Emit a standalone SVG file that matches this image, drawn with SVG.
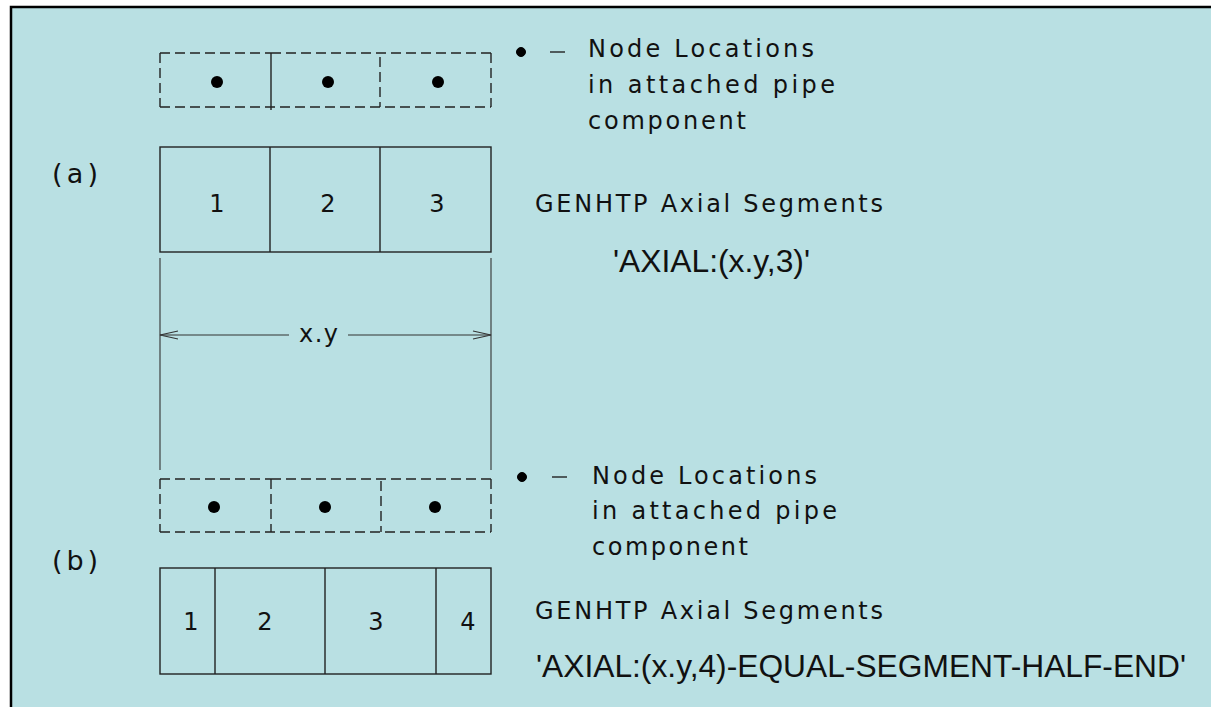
<svg xmlns="http://www.w3.org/2000/svg" width="1211" height="707" viewBox="0 0 1211 707">
<style>
.cad{font-family:"DejaVu Sans","Liberation Sans",sans-serif;font-size:24px;fill:#111;font-weight:normal}
.lab{font-family:"DejaVu Sans","Liberation Sans",sans-serif;font-size:27px;fill:#111}
.ari{font-family:"Liberation Sans",Arial,sans-serif;font-size:31px;fill:#111}
.box{fill:none;stroke:#222;stroke-width:1.4}
.dash{fill:none;stroke:#222;stroke-width:1.4;stroke-dasharray:10,5}
.thin{fill:none;stroke:#333;stroke-width:1.1}
.dot{fill:#000}
</style>
<rect x="0" y="0" width="1211" height="707" fill="#ffffff"/>
<rect x="11" y="7" width="1215" height="715" fill="#B9E0E3" stroke="#000" stroke-width="2.5"/>

<g id="label-a"><text class="lab" x="52" y="183" textLength="46" lengthAdjust="spacing">(a)</text></g>
<g id="label-b"><text class="lab" x="52" y="570" textLength="46" lengthAdjust="spacing">(b)</text></g>

<g id="pipe-nodes-a">
<path class="dash" d="M160,53 H271 M271,53 H491 M160,107 H491 M160,53 V107 M380,57 V107 M491,53 V107"/>
<path class="box" d="M271,53 V110"/>
<circle class="dot" cx="217" cy="82" r="6"/>
<circle class="dot" cx="328" cy="82" r="6"/>
<circle class="dot" cx="438" cy="82" r="6"/>
</g>

<g id="legend-a">
<circle cx="521" cy="52" r="4.5" fill="#000" stroke="#000" stroke-width="1"/>
<path class="box" d="M550,52 H565"/>
<text class="cad" x="588" y="57" textLength="226" lengthAdjust="spacing">Node Locations</text>
<text class="cad" x="588" y="93" textLength="247" lengthAdjust="spacing">in attached pipe</text>
<text class="cad" x="588" y="129" textLength="158" lengthAdjust="spacing">component</text>
</g>

<g id="segments-a">
<rect class="box" x="160" y="147" width="331" height="105"/>
<path class="box" d="M270,147 V252 M380,147 V252"/>
<text class="cad" x="217" y="212" text-anchor="middle">1</text>
<text class="cad" x="328" y="212" text-anchor="middle">2</text>
<text class="cad" x="437" y="212" text-anchor="middle">3</text>
</g>

<g id="caption-a">
<text class="cad" x="535" y="212" textLength="348" lengthAdjust="spacing">GENHTP Axial Segments</text>
<text class="ari" x="613" y="272" textLength="197" lengthAdjust="spacingAndGlyphs">'AXIAL:(x.y,3)'</text>
</g>

<g id="connectors">
<path class="thin" d="M160,258 V470 M491,258 V470"/>
<path class="thin" d="M160,335 H289 M348,335 H491"/>
<path class="thin" d="M178,331 L160,335 L178,339 M473,331 L491,335 L473,339"/>
<text class="cad" x="299" y="342" textLength="39" lengthAdjust="spacing">x.y</text>
</g>

<g id="pipe-nodes-b">
<path class="dash" d="M160,479 H271 M271,479 H491 M160,532 H491 M160,479 V532 M271,479 V532 M381,481 V532 M491,479 V532"/>
<circle class="dot" cx="214" cy="507" r="6"/>
<circle class="dot" cx="325" cy="507" r="6"/>
<circle class="dot" cx="435" cy="507" r="6"/>
</g>

<g id="legend-b">
<circle cx="522" cy="477" r="4.5" fill="#000" stroke="#000" stroke-width="1"/>
<path class="box" d="M552,477 H567"/>
<text class="cad" x="592" y="484" textLength="225" lengthAdjust="spacing">Node Locations</text>
<text class="cad" x="592" y="519" textLength="245" lengthAdjust="spacing">in attached pipe</text>
<text class="cad" x="592" y="555" textLength="156" lengthAdjust="spacing">component</text>
</g>

<g id="segments-b">
<rect class="box" x="160" y="568" width="331" height="106"/>
<path class="box" d="M215,568 V674 M325,568 V674 M436,568 V674"/>
<text class="cad" x="191" y="630" text-anchor="middle">1</text>
<text class="cad" x="265" y="630" text-anchor="middle">2</text>
<text class="cad" x="376" y="630" text-anchor="middle">3</text>
<text class="cad" x="468" y="630" text-anchor="middle">4</text>
</g>

<g id="caption-b">
<text class="cad" x="535" y="619" textLength="348" lengthAdjust="spacing">GENHTP Axial Segments</text>
<text class="ari" x="536" y="677" textLength="650" lengthAdjust="spacingAndGlyphs">'AXIAL:(x.y,4)-EQUAL-SEGMENT-HALF-END'</text>
</g>
</svg>
